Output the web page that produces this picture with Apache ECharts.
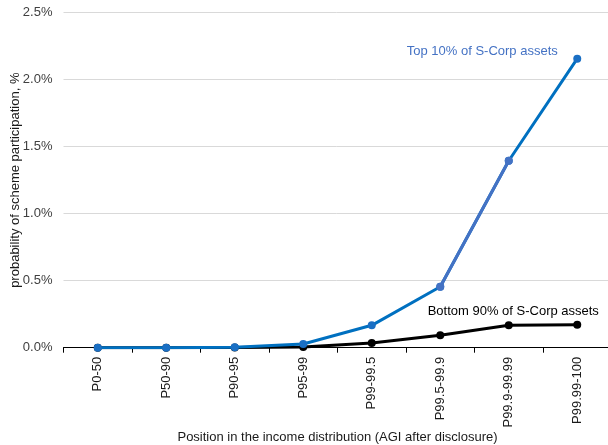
<!DOCTYPE html>
<html>
<head>
<meta charset="utf-8">
<script src="https://cdn.jsdelivr.net/npm/echarts@6/dist/echarts.min.js"></script>
<style>html,body{margin:0;padding:0;background:#fff}#c{width:608px;height:445px}</style>
</head>
<body>
<div id="c"></div>
<script>
const categories = ['P0-50','P50-90','P90-95','P95-99','P99-99.5','P99.5-99.9','P99.9-99.99','P99.99-100'];
const topValues = [0.0, 0.0, 0.004, 0.028, 0.167, 0.455, 1.395, 2.157];
const bottomValues = [0.0, 0.0, 0.002, 0.005, 0.035, 0.093, 0.167, 0.172];
const topName = 'Top 10% of S-Corp assets';
const bottomName = 'Bottom 90% of S-Corp assets';
const yTicks = [0, 0.5, 1.0, 1.5, 2.0, 2.5];

const chart = echarts.init(document.getElementById('c'));
const font = 'Liberation Sans, Arial, sans-serif';
const last = categories.length - 1;

function withLabel(arr, name, offset, color) {
  return arr.map((v, i) => i === last ? {
    value: v,
    label: { show: true, formatter: name, position: 'inside', offset: offset,
             color: color, fontSize: 13, fontFamily: font }
  } : v);
}

chart.setOption({
  animation: false,
  grid: { left: 63.5, right: -3.5, top: 12.7, bottom: 97.3, containLabel: false, outerBoundsMode: 'none' },
  xAxis: {
    type: 'category',
    data: categories,
    boundaryGap: true,
    name: 'Position in the income distribution (AGI after disclosure)',
    nameLocation: 'middle',
    nameGap: 83,
    nameMoveOverlap: false,
    nameTextStyle: { color: '#1a1a1a', fontSize: 13, fontFamily: font },
    axisLine: { lineStyle: { color: '#000', width: 1 } },
    axisTick: { show: true, length: 5, lineStyle: { color: '#000' } },
    axisLabel: { rotate: 90, color: '#1a1a1a', fontSize: 13, fontFamily: font, margin: 9 },
    splitLine: { show: false }
  },
  yAxis: {
    type: 'value',
    min: yTicks[0],
    max: yTicks[yTicks.length - 1],
    interval: yTicks[1] - yTicks[0],
    name: 'probability of scheme participation, %',
    nameLocation: 'middle',
    nameGap: 42,
    nameMoveOverlap: false,
    nameTextStyle: { color: '#1a1a1a', fontSize: 13, fontFamily: font },
    axisLine: { show: false },
    axisTick: { show: false },
    axisLabel: { color: '#404040', fontSize: 13, fontFamily: font, margin: 11,
                 formatter: v => v.toFixed(1) + '%' },
    splitLine: { lineStyle: { color: '#d9d9d9', width: 1 } }
  },
  series: [
    {
      name: bottomName,
      type: 'line',
      data: withLabel(bottomValues, bottomName, [-64, -13], '#000'),
      symbol: 'circle',
      symbolSize: 8,
      lineStyle: { color: '#000', width: 3 },
      itemStyle: { color: '#000' },
      z: 2
    },
    {
      name: topName,
      type: 'line',
      data: withLabel(topValues, topName, [-95, -7], '#4472C4'),
      symbol: 'circle',
      symbolSize: 8,
      lineStyle: { color: '#0070C0', width: 3 },
      itemStyle: { color: '#1a6fc4' },
      z: 3
    },
    {
      name: topName + ' segment',
      type: 'line',
      data: topValues.map((v, i) => (i === 5 || i === 6) ? v : null),
      symbol: 'circle',
      symbolSize: 8,
      lineStyle: { color: '#4472C4', width: 3 },
      itemStyle: { color: '#4472C4' },
      z: 4
    }
  ]
});
</script>
</body>
</html>
